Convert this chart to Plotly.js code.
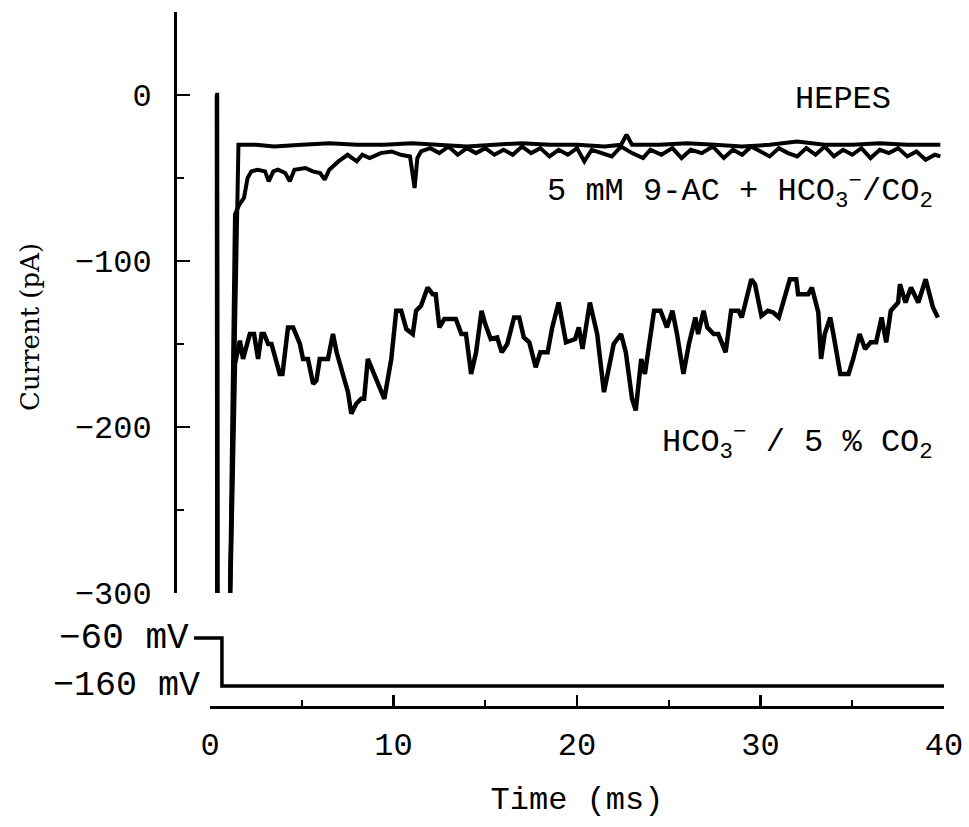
<!DOCTYPE html>
<html>
<head>
<meta charset="utf-8">
<script src="https://cdn.plot.ly/plotly-3.0.1.min.js"></script>
<style>
  html, body { margin: 0; padding: 0; background: #fff; }
  #chart { width: 969px; height: 827px; }
</style>
</head>
<body>
<div id="chart"></div>
<script>
// ---- Whole-cell currents during a step from -60 to -160 mV ----

// HCO3- / 5 % CO2 trace (time in ms, current in pA)
const hco3Time = [
  0.30, 0.38, 0.40, 1.08, 1.36, 1.63, 1.80, 2.17, 2.40, 2.62,
  2.81, 2.95, 3.17, 3.35, 3.80, 3.95, 4.25, 4.53, 4.90, 5.07,
  5.34, 5.62, 5.80, 5.98, 6.43, 6.70, 6.90, 7.25, 7.52, 7.70,
  7.97, 8.24, 8.40, 8.60, 8.79, 9.15, 9.50, 9.88, 10.15, 10.42,
  10.70, 11.05, 11.23, 11.50, 11.86, 12.14, 12.30, 12.50, 12.77, 13.40,
  13.70, 13.95, 14.23, 14.50, 14.80, 15.00, 15.30, 15.65, 15.90, 16.20,
  16.57, 16.85, 17.10, 17.40, 17.75, 18.00, 18.40, 18.65, 19.00, 19.40,
  19.90, 20.10, 20.30, 20.70, 21.10, 21.47, 21.74, 22.00, 22.40, 22.66,
  23.00, 23.20, 23.50, 23.70, 24.20, 24.55, 24.90, 25.20, 25.45, 25.80,
  26.10, 26.45, 26.60, 26.90, 27.10, 27.45, 27.70, 28.10, 28.40, 28.80,
  28.98, 29.20, 29.50, 29.70, 30.05, 30.40, 30.70, 31.00, 31.35, 31.60,
  31.95, 32.05, 32.60, 32.80, 33.15, 33.30, 33.50, 33.80, 33.97, 34.35,
  34.80, 35.05, 35.40, 35.70, 36.00, 36.30, 36.60, 36.85, 37.10, 37.50,
  37.60, 37.90, 38.20, 38.60, 39.00, 39.40, 39.67
];
const hco3Current = [
  0, 0, -310, -310, -162, -148, -159, -144, -144, -159,
  -144, -144, -150, -150, -168, -168, -140, -140, -150, -159,
  -159, -174, -172, -159, -159, -144, -155, -168, -179, -192,
  -186, -183, -183, -159, -164, -175, -183, -159, -130, -130,
  -141, -144, -130, -127, -116, -120, -120, -140, -135, -135,
  -144, -144, -168, -155, -130, -138, -147, -146, -155, -150,
  -134, -134, -146, -149, -164, -155, -155, -140, -125, -149,
  -147, -140, -153, -125, -144, -179, -164, -150, -144, -155,
  -183, -190, -159, -168, -130, -130, -140, -130, -144, -168,
  -150, -134, -144, -130, -140, -144, -144, -155, -130, -130,
  -134, -125, -111, -114, -133, -130, -131, -134, -120, -111,
  -111, -120, -120, -116, -131, -159, -144, -134, -144, -168,
  -168, -159, -144, -153, -149, -149, -134, -149, -130, -125,
  -114, -125, -116, -125, -111, -128, -134
];

// 5 mM 9-AC + HCO3-/CO2 trace
const acTime = [
  0.30, 0.38, 0.40, 1.08, 1.36, 1.60, 1.85, 2.05, 2.25, 2.60,
  3.00, 3.20, 3.45, 3.70, 4.10, 4.35, 4.60, 5.20, 5.60, 6.00,
  6.25, 6.50, 7.00, 7.50, 8.00, 8.30, 8.70, 9.30, 9.90, 10.40,
  10.90, 11.15, 11.30, 11.50, 12.00, 12.50, 13.00, 13.50, 14.00, 14.50,
  15.00, 15.50, 16.00, 16.50, 17.00, 17.50, 18.00, 18.50, 19.00, 19.50,
  20.00, 20.40, 20.80, 21.30, 21.90, 22.40, 23.00, 23.60, 24.00, 24.60,
  25.20, 25.70, 26.20, 26.80, 27.40, 28.00, 28.50, 29.00, 29.50, 30.00,
  30.50, 31.00, 31.50, 32.00, 32.50, 33.00, 33.50, 34.00, 34.50, 35.00,
  35.50, 36.00, 36.50, 37.00, 37.50, 38.00, 38.50, 39.00, 39.50, 39.80
];
const acCurrent = [
  0, 0, -310, -310, -72, -66, -62, -50, -46, -45,
  -46, -52, -46, -45, -47, -52, -45, -44, -46, -47,
  -51, -45, -40, -36, -40, -36, -38, -35, -34, -36,
  -37, -56, -38, -34, -32, -35, -31, -36, -32, -35,
  -32, -36, -33, -36, -31, -35, -32, -37, -33, -36,
  -32, -40, -33, -35, -37, -31, -35, -38, -33, -36,
  -32, -38, -33, -35, -31, -38, -33, -36, -31, -34,
  -37, -32, -35, -37, -32, -36, -31, -37, -33, -36,
  -32, -38, -33, -35, -32, -37, -34, -39, -36, -37
];

// HEPES trace
const hepesTime = [
  0.30, 0.38, 0.40, 1.08, 1.45, 1.55,
  2.5, 3.5, 5.0, 6.5, 8.0, 9.5, 11.0, 12.5, 14.0, 15.5,
  17.0, 18.5, 20.0, 21.5, 22.4, 22.7, 23.0, 24.5, 26.0, 27.5,
  29.0, 30.5, 32.0, 33.5, 35.0, 36.5, 38.0, 39.8
];
const hepesCurrent = [
  0, 0, -310, -310, -90, -30,
  -30, -31, -30, -29, -30, -30, -29, -30, -31, -30,
  -29, -30, -30, -31, -30, -24, -30, -30, -29, -30,
  -31, -30, -28, -30, -30, -29, -30, -30
];

// Command voltage protocol (ms, mV)
const stepTime = [-0.87, 0.65, 0.65, 40];
const stepVoltage = [-60, -60, -160, -160];

// Axis ticks
const xMajorTicks = [0, 10, 20, 30, 40];
const xMinorTicks = [5, 15, 25, 35];
const yMajorTicks = [0, -100, -200, -300];
const yMinorTicks = [-250, -150, -50, 50];

// Trace labels
const hepesLabel = 'HEPES';
const acLabel = '5 mM 9-AC + HCO<sub>3</sub><sup>−</sup>/CO<sub>2</sub>';
const hco3Label = 'HCO<sub>3</sub><sup>−</sup> / 5 % CO<sub>2</sub>';
const vHoldLabel = '−60 mV';
const vStepLabel = '−160 mV';

// ---- page geometry (pixels) ----
const W = 969, H = 827;
const fx = p => p / W;
const fy = p => 1 - p / H;
const X0 = 210, X40 = 944;             // pixel of t = 0 and t = 40 ms
const pxPerMs = (X40 - X0) / 40;
const Y_AXIS_X = 175;                  // current axis line
const X_AXIS_Y = 707;                  // time axis line
const CUR_TOP = 12, CUR_BOT = 593;     // +50 pA and -300 pA

const mono = 'Liberation Mono, Courier New, monospace';
const serif = 'DejaVu Serif, Liberation Serif, serif';
const black = '#000';

const traces = [
  { x: hco3Time, y: hco3Current, xaxis: 'x', yaxis: 'y', type: 'scatter', mode: 'lines',
    line: { color: black, width: 4.5 }, hoverinfo: 'skip' },
  { x: acTime, y: acCurrent, xaxis: 'x', yaxis: 'y', type: 'scatter', mode: 'lines',
    line: { color: black, width: 4 }, hoverinfo: 'skip' },
  { x: hepesTime, y: hepesCurrent, xaxis: 'x', yaxis: 'y', type: 'scatter', mode: 'lines',
    line: { color: black, width: 4 }, hoverinfo: 'skip' },
  { x: stepTime, y: stepVoltage, xaxis: 'x2', yaxis: 'y2', type: 'scatter', mode: 'lines',
    line: { color: black, width: 3.5 }, hoverinfo: 'skip' }
];

const layout = {
  width: W, height: H,
  margin: { l: 0, r: 0, t: 0, b: 0 },
  paper_bgcolor: '#fff',
  plot_bgcolor: 'rgba(0,0,0,0)',
  showlegend: false,
  font: { family: mono, size: 32, color: black },
  xaxis: {
    domain: [fx(X0), fx(X40)],
    range: [0, 40],
    anchor: 'free', position: fy(X_AXIS_Y),
    showline: true, linewidth: 3, linecolor: black,
    ticks: 'inside', ticklen: 11, tickwidth: 2.5, tickcolor: black,
    tickmode: 'array', tickvals: xMajorTicks,
    minor: { tickmode: 'array', tickvals: xMinorTicks, ticks: 'inside', ticklen: 6, tickwidth: 2, tickcolor: black },
    ticklabelstandoff: 8,
    tickfont: { family: mono, size: 32, color: black },
    showgrid: false, zeroline: false,
    title: { text: 'Time (ms)', font: { family: mono, size: 32, color: black }, standoff: 22 }
  },
  yaxis: {
    domain: [fy(CUR_BOT), fy(CUR_TOP)],
    range: [-300, 50],
    anchor: 'free', position: fx(Y_AXIS_X),
    showline: true, linewidth: 2.5, linecolor: black,
    ticks: 'inside', ticklen: 13, tickwidth: 2.5, tickcolor: black,
    tickmode: 'array', tickvals: yMajorTicks,
    minor: { tickmode: 'array', tickvals: yMinorTicks, ticks: 'inside', ticklen: 7, tickwidth: 2, tickcolor: black },
    ticklabelstandoff: 16,
    tickfont: { family: mono, size: 32, color: black },
    showgrid: false, zeroline: false
  },
  xaxis2: {
    domain: [fx(Y_AXIS_X), fx(X40)],
    range: [-(X0 - Y_AXIS_X) / pxPerMs, 40],
    anchor: 'y2', visible: false
  },
  yaxis2: {
    domain: [fy(710), fy(614)],
    range: [-210, -10],
    anchor: 'x2', visible: false
  },
  annotations: [
    { text: hepesLabel, xref: 'x', yref: 'y', x: 37.2, y: -3, xanchor: 'right', yanchor: 'middle',
      showarrow: false, font: { family: mono, size: 32, color: black } },
    { text: acLabel, xref: 'x', yref: 'y', x: 39.5, y: -58, xanchor: 'right', yanchor: 'middle',
      showarrow: false, font: { family: mono, size: 32, color: black } },
    { text: hco3Label, xref: 'x', yref: 'y', x: 39.5, y: -209, xanchor: 'right', yanchor: 'middle',
      showarrow: false, font: { family: mono, size: 32, color: black } },
    { text: vHoldLabel, xref: 'paper', yref: 'y2', x: fx(191), y: -60, xanchor: 'right', yanchor: 'middle',
      showarrow: false, font: { family: mono, size: 36, color: black } },
    { text: vStepLabel, xref: 'paper', yref: 'y2', x: fx(202), y: -160, xanchor: 'right', yanchor: 'middle',
      showarrow: false, font: { family: mono, size: 35, color: black } },
    { text: 'Current (pA)', xref: 'paper', yref: 'paper', x: fx(30), y: fy(327), xanchor: 'center', yanchor: 'middle',
      textangle: -90, showarrow: false, font: { family: serif, size: 26, color: black } }
  ]
};

Plotly.newPlot('chart', traces, layout, { staticPlot: true, displayModeBar: false });
</script>
</body>
</html>
